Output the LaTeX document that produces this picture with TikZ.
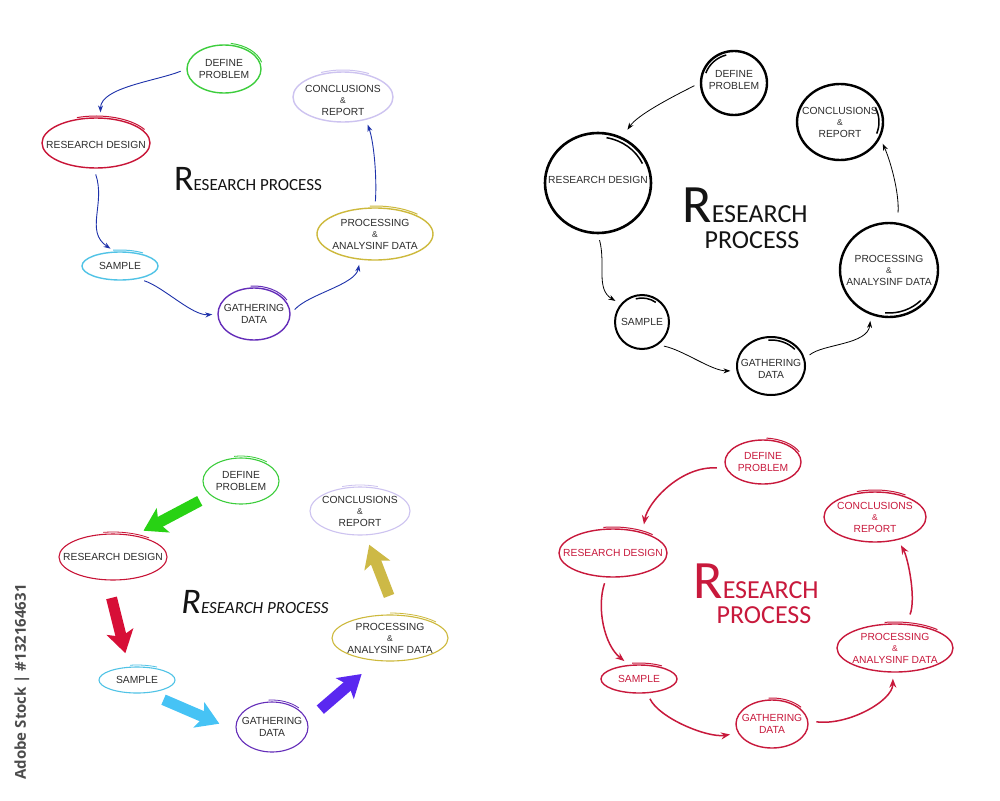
\documentclass[tikz,border=0pt]{standalone}
\usepackage{fontspec}
\setmainfont{Liberation Sans}
\newfontfamily\headfont{Carlito}
\newfontfamily\stampfont{Open Sans}
\usetikzlibrary{arrows.meta, shapes.geometric}
\definecolor{ink}{RGB}{45,45,45}
\definecolor{leaf}{RGB}{60,205,60}
\definecolor{lilac}{RGB}{205,195,240}
\definecolor{crimson}{RGB}{200,20,55}
\definecolor{mustard}{RGB}{205,185,60}
\definecolor{sky}{RGB}{80,195,230}
\definecolor{grape}{RGB}{100,45,185}
\definecolor{navyflow}{RGB}{30,50,170}
\definecolor{bigleaf}{RGB}{40,210,20}
\definecolor{bigred}{RGB}{215,15,55}
\definecolor{bigsky}{RGB}{70,195,245}
\definecolor{bigviolet}{RGB}{90,40,240}
\definecolor{bigmustard}{RGB}{205,185,70}
\definecolor{wine}{RGB}{200,25,60}
\newcommand{\tagfont}{\fontsize{10.3}{11.5}\selectfont}
\newcommand{\amp}{{\fontsize{8.5}{8.5}\selectfont\&}}
\newcommand{\bigR}[1]{{\fontsize{#1}{#1}\selectfont R}}
\tikzset{
  ring/.style={ellipse, inner sep=0pt, line width=1.4pt},
  dims/.style 2 args={minimum width=#1pt, minimum height=#2pt},
  tag/.style={align=center, inner sep=0pt, text=ink, font=\tagfont},
  head/.style={inner sep=0pt, anchor=base, text=black!92, font=\headfont\fontsize{17}{17}\selectfont},
  headbig/.style={head, font=\headfont\fontsize{26}{26}\selectfont},
}

\begin{document}
\begin{tikzpicture}[x=1pt, y=-1pt,
    flowA/.style={navyflow, line width=0.9pt, -{Stealth[length=7pt, width=5pt]},
        shorten <=6pt, shorten >=5pt},
    flowB/.style={black, line width=0.8pt, -{Stealth[length=7pt, width=5pt]},
        shorten <=6pt, shorten >=6pt},
    flowD/.style={wine, line width=1.5pt, -{Stealth[length=9pt, width=7pt]},
        shorten <=6pt, shorten >=6pt},
    bigflow/.style={line width=11pt, -{Stealth[length=22pt, width=27pt, inset=5pt]}}
]
\fill[white] (0,0) rectangle (1000,800);
\useasboundingbox (0,0) rectangle (1000,800);

% top left
\node[ring, draw=leaf, dims={74}{48}] (dpA) at (224,69) {};
\node[ring, draw=lilac, dims={100}{50}] (crA) at (343,97) {};
\node[ring, draw=crimson, dims={108}{50}] (rdA) at (96,143) {};
\node[ring, draw=mustard, dims={116}{52}] (paA) at (375,234) {};
\node[ring, draw=sky, dims={76}{28}] (smA) at (120,266) {};
\node[ring, draw=grape, dims={72}{52}] (gdA) at (254,314) {};
\foreach \n/\c/\rx/\ry/\a/\b in {dpA/leaf/39/26/80/15, crA/lilac/52/27/115/60,
    rdA/crimson/56/27/110/30, paA/mustard/60/28/95/45, smA/sky/40/16/100/55,
    gdA/grape/38/28/95/30}
  \draw[\c, line width=1pt] ([shift={(\a:\rx pt and \ry pt)}]\n.center)
    arc[start angle=\a, end angle=\b, x radius=\rx pt, y radius=\ry pt];

\node[tag] (dpAt) at (dpA) {DEFINE\\PROBLEM};
\node[tag] (crAt) at (343,100) {CONCLUSIONS\\\amp\\REPORT};
\node[tag] (rdAt) at (96,145) {RESEARCH DESIGN};
\node[tag] (paAt) at (paA) {PROCESSING\\\amp\\ANALYSINF DATA};
\node[tag] (smAt) at (smA) {SAMPLE};
\node[tag] (gdAt) at (gdA) {GATHERING\\DATA};
\node[head] (tA) at (248,190) {\bigR{36}ESEARCH PROCESS};

\draw[flowA] (dpA.west) .. controls +(-30,12) and +(0,-30) .. (rdA.80);
\draw[flowA] (rdA.265) .. controls +(12,35) and +(-30,-20) .. (smA.110);
\draw[flowA] (smA.-35) .. controls +(25,8) and +(-25,2) .. (gdA.west);
\draw[flowA] (gdA.east) .. controls +(18,-20) and +(-5,25) .. (paA.240);
\draw[flowA] (paA.north) .. controls +(2,-30) and +(8,22) .. (crA.-45);

% top right
\node[ring, draw=black, line width=2.4pt, dims={66}{64}] (dpB) at (734,83) {};
\node[ring, draw=black, line width=2.4pt, dims={86}{76}] (crB) at (840,122) {};
\node[ring, draw=black, line width=2.6pt, dims={106}{100}] (rdB) at (598,183) {};
\node[ring, draw=black, line width=2.4pt, dims={98}{94}] (paB) at (889,270) {};
\node[ring, draw=black, line width=2pt, dims={54}{54}] (smB) at (642,322) {};
\node[ring, draw=black, line width=2pt, dims={68}{58}] (gdB) at (771,366) {};
\foreach \n/\rx/\ry/\a/\b in {dpB/30/29/160/105, crB/39/34/25/-20,
    rdB/49/46/80/25, paB/45/43/-95/-45, smB/24/24/105/55, gdB/31/26/95/40}
  \draw[black, line width=1.5pt] ([shift={(\a:\rx pt and \ry pt)}]\n.center)
    arc[start angle=\a, end angle=\b, x radius=\rx pt, y radius=\ry pt];

\node[tag] (dpBt) at (734,80) {DEFINE\\PROBLEM};
\node[tag] (crBt) at (crB) {CONCLUSIONS\\\amp\\REPORT};
\node[tag] (rdBt) at (598,180) {RESEARCH DESIGN};
\node[tag] (paBt) at (paB) {PROCESSING\\\amp\\ANALYSINF DATA};
\node[tag] (smBt) at (smB) {SAMPLE};
\node[tag] (gdBt) at (771,369) {GATHERING\\DATA};
\node[headbig] (tB) at (745,222) {\bigR{54}ESEARCH};
\node[headbig] (tB2) at (752,248) {PROCESS};

\draw[flowB, shorten >=9pt] (dpB.west) .. controls +(-30,15) and +(15,-22) .. (rdB.62);
\draw[flowB] (rdB.south) .. controls +(8,30) and +(-25,-15) .. (smB.140);
\draw[flowB] (smB.-55) .. controls +(25,5) and +(-25,0) .. (gdB.188);
\draw[flowB] (gdB.12) .. controls +(18,-15) and +(-3,30) .. (paB.-112);
\draw[flowB, shorten <=10pt] (paB.80) .. controls +(2,-30) and +(10,22) .. (crB.-22);

% bottom left
\node[ring, draw=leaf, line width=1.1pt, dims={76}{46}] (dpC) at (241,481) {};
\node[ring, draw=lilac, line width=1.1pt, dims={100}{48}] (crC) at (360,511) {};
\node[ring, draw=crimson, line width=1.1pt, dims={108}{46}] (rdC) at (113,557) {};
\node[ring, draw=mustard, line width=1.1pt, dims={116}{46}] (paC) at (390,638) {};
\node[ring, draw=sky, line width=1.1pt, dims={76}{26}] (smC) at (137,680) {};
\node[ring, draw=grape, line width=1.1pt, dims={72}{50}] (gdC) at (272,727) {};
\foreach \n/\c/\rx/\ry/\a/\b in {dpC/leaf/40/25/100/50, crC/lilac/52/26/110/70,
    rdC/crimson/56/25/100/50, paC/mustard/60/25/90/40, smC/sky/40/15/100/60,
    gdC/grape/38/27/95/45}
  \draw[\c, line width=0.8pt] ([shift={(\a:\rx pt and \ry pt)}]\n.center)
    arc[start angle=\a, end angle=\b, x radius=\rx pt, y radius=\ry pt];

\node[tag] (dpCt) at (dpC) {DEFINE\\PROBLEM};
\node[tag] (crCt) at (crC) {CONCLUSIONS\\\amp\\REPORT};
\node[tag] (rdCt) at (rdC) {RESEARCH DESIGN};
\node[tag] (paCt) at (paC) {PROCESSING\\\amp\\ANALYSINF DATA};
\node[tag] (smCt) at (smC) {SAMPLE};
\node[tag] (gdCt) at (gdC) {GATHERING\\DATA};
\node[head, font=\headfont\itshape\fontsize{17}{17}\selectfont] (tC) at (255,613)
    {\bigR{36}ESEARCH PROCESS};

\draw[bigflow, bigleaf, shorten <=12pt, shorten >=10pt] (dpC.205) -- (rdC.45);
\draw[bigflow, bigred, shorten <=18pt, shorten >=14pt] (rdC.256) -- (smC.122);
\draw[bigflow, bigsky, shorten <=17pt, shorten >=18pt] (smC.-50) -- (gdC.186);
\draw[bigflow, bigviolet, shorten <=17pt, shorten >=20pt] (gdC.10) -- (paC.-120);
\draw[bigflow, bigmustard, shorten <=20pt, shorten >=10pt] (paC.75) -- (crC.-77);

% bottom right
\node[ring, draw=wine, dims={76}{44}] (dpD) at (763,462) {};
\node[ring, draw=wine, dims={102}{50}] (crD) at (875,517) {};
\node[ring, draw=wine, dims={108}{48}] (rdD) at (613,553) {};
\node[ring, draw=wine, dims={116}{48}] (paD) at (895,648) {};
\node[ring, draw=wine, dims={76}{28}] (smD) at (639,679) {};
\node[ring, draw=wine, dims={72}{48}] (gdD) at (772,724) {};
\foreach \n/\rx/\ry/\a/\b in {dpD/40/24/85/25, crD/53/27/110/55, rdD/56/26/100/45,
    paD/60/26/100/45, smD/40/16/100/55, gdD/38/26/95/40}
  \draw[wine, line width=1pt] ([shift={(\a:\rx pt and \ry pt)}]\n.center)
    arc[start angle=\a, end angle=\b, x radius=\rx pt, y radius=\ry pt];

\node[tag, text=wine] (dpDt) at (dpD) {DEFINE\\PROBLEM};
\node[tag, text=wine] (crDt) at (crD) {CONCLUSIONS\\\amp\\REPORT};
\node[tag, text=wine] (rdDt) at (rdD) {RESEARCH DESIGN};
\node[tag, text=wine] (paDt) at (paD) {PROCESSING\\\amp\\ANALYSINF DATA};
\node[tag, text=wine] (smDt) at (smD) {SAMPLE};
\node[tag, text=wine] (gdDt) at (gdD) {GATHERING\\DATA};
\node[headbig, text=wine] (tD) at (756,598) {\bigR{54}ESEARCH};
\node[headbig, text=wine] (tD2) at (764,623) {PROCESS};

\draw[flowD, shorten <=9pt, shorten >=8pt] (dpD.190) .. controls +(-45,-3) and +(5,-30) .. (rdD.35);
\draw[flowD] (rdD.255) .. controls +(-10,30) and +(-25,-20) .. (smD.125);
\draw[flowD, shorten >=8pt] (smD.-60) .. controls +(12,25) and +(-30,5) .. (gdD.195);
\draw[flowD, shorten <=8pt] (gdD.5) .. controls +(40,5) and +(0,28) .. (paD.-95);
\draw[flowD, shorten <=10pt] (paD.65) .. controls +(10,-25) and +(10,18) .. (crD.-45);

\node[rotate=90, text=black!70, font=\stampfont\bfseries\fontsize{15}{15}\selectfont]
    (stamp) at (22,682) {Adobe Stock | \#132164631};
\end{tikzpicture}
\end{document}
